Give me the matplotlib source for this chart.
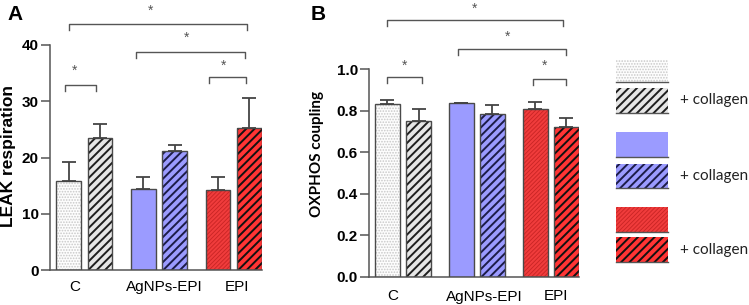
import numpy as np
import matplotlib.pyplot as plt
from matplotlib.patches import Rectangle

plt.rcParams['font.family'] = ['Liberation Sans', 'DejaVu Sans']

groups = ["C", "AgNPs-EPI", "EPI"]
leak_mean = [15.8, 23.4, 14.4, 21.2, 14.2, 25.2]
leak_err = [3.4, 2.6, 2.2, 1.1, 2.4, 5.4]
oxphos_mean = [0.83, 0.75, 0.835, 0.785, 0.81, 0.72]
oxphos_err = [0.021, 0.056, 0.003, 0.04, 0.03, 0.045]

# face, hatch, hatch colour, hatch width
styles = [
    ("#fdfdfd", "......", "#c8c8c8", 0.8),
    ("#e6e6e6", "////", "#1e1e1e", 1.4),
    ("#9b9bff", None, "#9b9bff", 0.8),
    ("#9b9bff", "////", "#1c1c48", 1.4),
    ("#f03c3c", "////////", "#c82424", 0.6),
    ("#ff3434", "////", "#111111", 1.4),
]

EDGE = "#4a4a4a"
pos = np.array([-0.21, 0.21, 0.79, 1.21, 1.79, 2.21])
W = 0.33

W_PX, H_PX = 749, 305
fig = plt.figure(figsize=(W_PX / 100, H_PX / 100), dpi=100)


def ax_px(l, t, r, b):
    return fig.add_axes([l / W_PX, 1 - b / H_PX, (r - l) / W_PX, (b - t) / H_PX])


def draw_bars(ax, means, errs):
    for i, (m, (fc, h, hc, hw)) in enumerate(zip(means, styles)):
        with plt.rc_context({'hatch.linewidth': hw}):
            ax.bar(pos[i], m, W, color=fc, hatch=h, edgecolor=hc, linewidth=0, zorder=2)
        ax.bar(pos[i], m, W, facecolor='none', edgecolor=EDGE, linewidth=1.0, zorder=3)
    ax.errorbar(pos, means, yerr=[np.zeros(len(errs)), errs], fmt='none',
                ecolor='#444444', elinewidth=1.3, capsize=5, capthick=1.3, zorder=4)
    ax.set_xlim(-0.46, 2.38)
    for s in ['top', 'right']:
        ax.spines[s].set_visible(False)
    for s in ['left', 'bottom']:
        ax.spines[s].set_color('#555555')
        ax.spines[s].set_linewidth(1.1)
    ax.tick_params(axis='y', length=6.5, width=1.1, color='#555555', pad=1.5,
                   labelsize=11)


def bracket(ax, x1, x2, y, drop, sx, sy):
    ax.plot([x1, x1, x2, x2], [y - drop, y, y, y - drop], color='#555555',
            lw=1.0, clip_on=False, zorder=5)
    ax.annotate("*", (sx, sy), xytext=(0, -3), textcoords='offset points',
                ha='center', va='center', fontsize=10, color='#555555',
                annotation_clip=False)


# panel A
axA = ax_px(50, 45, 262, 270)
draw_bars(axA, leak_mean, leak_err)
axA.set_ylim(0, 40)
axA.set_yticks([0, 10, 20, 30, 40])
for lab in axA.get_yticklabels():
    lab.set_fontweight('bold')
axA.set_xticks([-0.13, 1.07, 2.04], groups)
axA.tick_params(axis='x', length=0, pad=7, labelsize=11)
bracket(axA, -0.21, 2.18, 43.7, 1.07, 0.89, 46.9)
bracket(axA, 0.69, 2.15, 38.8, 1.07, 1.37, 42.0)
bracket(axA, 1.67, 2.17, 34.3, 1.07, 1.87, 37.1)
bracket(axA, -0.26, 0.15, 32.9, 1.07, -0.13, 36.1)

# panel B
axB = ax_px(369, 69, 579, 277)
draw_bars(axB, oxphos_mean, oxphos_err)
axB.set_ylim(0, 1.0)
axB.set_yticks(np.arange(0, 1.01, 0.2))
axB.set_yticklabels([f"{v:.1f}" for v in np.arange(0, 1.01, 0.2)])
for lab in axB.get_yticklabels():
    lab.set_fontweight('bold')
axB.set_xticks([-0.14, 1.1, 2.07], groups)
axB.tick_params(axis='x', length=0, pad=9, labelsize=11)
bracket(axB, -0.21, 2.17, 1.236, 0.029, 0.97, 1.308)
bracket(axB, 0.75, 2.21, 1.094, 0.029, 1.41, 1.173)
bracket(axB, 1.76, 2.21, 0.951, 0.029, 1.91, 1.034)
bracket(axB, -0.21, 0.25, 0.960, 0.029, 0.02, 1.034)

# overlay for labels and legend
ov = fig.add_axes([0, 0, 1, 1], zorder=-1)
ov.set_xlim(0, W_PX)
ov.set_ylim(H_PX, 0)
ov.axis('off')

ov.text(15, 15, "A", fontsize=15, fontweight='bold', ha='center', va='center')
ov.text(318, 15, "B", fontsize=15, fontweight='bold', ha='center', va='center')
ov.text(9, 156, "LEAK respiration", rotation=90, fontsize=12.5, fontweight='bold',
        ha='center', va='center')
ov.text(317, 154, "OXPHOS coupling", rotation=90, fontsize=11, fontweight='bold',
        ha='center', va='center', family=['Lato', 'DejaVu Sans'])

leg_rows = [(60, 82), (88, 113), (132, 157), (164, 188), (207, 232), (237, 262)]
for (t, b), (fc, h, hc, hw) in zip(leg_rows, styles):
    with plt.rc_context({'hatch.linewidth': hw}):
        ov.add_patch(Rectangle((616, t), 52, b - t, facecolor=fc, hatch=h,
                               edgecolor=hc, linewidth=0))
    ov.plot([616, 668], [b, b], color='#555555', lw=1.0)
for y in [100, 176, 250]:
    ov.text(680, y, "+ collagen", fontsize=11, ha='left', va='center',
            family=['Lato', 'DejaVu Sans'], color='#222222')

fig.savefig("out.png", dpi=100)
